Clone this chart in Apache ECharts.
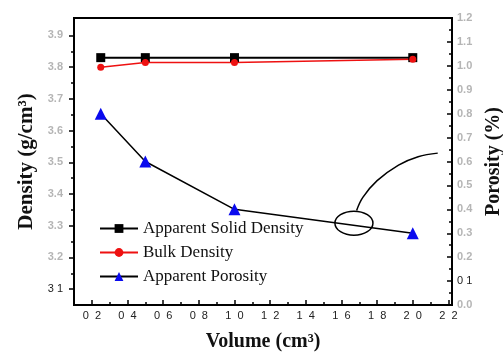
<!DOCTYPE html>
<html>
<head>
<meta charset="utf-8">
<script src="https://cdn.jsdelivr.net/npm/echarts@6/dist/echarts.min.js"></script>
<style>
html,body{margin:0;padding:0;background:#fff;}
#chart{width:503px;height:354px;}
</style>
</head>
<body>
<div id="chart"></div>
<script>
// data
var volumes = [0.25, 0.5, 1.0, 2.0];
var solidDensity = [3.83, 3.83, 3.83, 3.83];
var bulkDensity = [3.80, 3.815, 3.815, 3.825];
var porosity = [0.8, 0.6, 0.4, 0.3];

var xTicks = [0.2, 0.4, 0.6, 0.8, 1.0, 1.2, 1.4, 1.6, 1.8, 2.0, 2.2];
var xMinorTicks = [0.3, 0.5, 0.7, 0.9, 1.1, 1.3, 1.5, 1.7, 1.9, 2.1];
var densityTicks = [3.1, 3.2, 3.3, 3.4, 3.5, 3.6, 3.7, 3.8, 3.9];
var densityMinorTicks = [3.15, 3.25, 3.35, 3.45, 3.55, 3.65, 3.75, 3.85];

// hand-drawn note: circled spot and the curve leaving it (volume, porosity)
var noteCenter = [1.67, 0.342];
var noteCurve = [[1.685, 0.395], [1.72, 0.45], [1.80, 0.52], [1.92, 0.585], [2.03, 0.62], [2.14, 0.635]];

var serif = 'Liberation Serif';
var black = '#000';

function pair(ys){
  return volumes.map(function(v, i){ return [v, ys[i]]; });
}

function nameStyle(size){
  return {fontFamily: serif, fontWeight: 'bold', fontSize: size, color: '#111'};
}

var chart = echarts.init(document.getElementById('chart'));
var option = {
  backgroundColor: '#fff',
  animation: false,
  grid: {
    left: 74, right: 51, top: 18, bottom: 49,
    outerBoundsMode: 'none',
    show: true, borderColor: black, borderWidth: 2
  },
  legend: {
    orient: 'vertical',
    left: 99, top: 220, padding: 0,
    itemWidth: 38, itemHeight: 11, itemGap: 7,
    textStyle: {fontFamily: serif, fontSize: 17, color: '#111'},
    data: ['Apparent Solid Density', 'Bulk Density', 'Apparent Porosity']
  },
  xAxis: [{
    type: 'value', min: 0.1, max: 2.22,
    name: 'Volume (cm³)', nameLocation: 'middle', nameGap: 27,
    nameTextStyle: nameStyle(20),
    axisLine: {lineStyle: {color: black, width: 2}},
    axisTick: {inside: true, length: 5, customValues: xTicks, lineStyle: {color: black, width: 1.5}},
    axisLabel: {
      customValues: xTicks, margin: 5, fontSize: 11, color: '#222',
      formatter: function(v){ return v.toFixed(1).replace('.', '  '); }
    },
    splitLine: {show: false}
  }, {
    type: 'value', min: 0.1, max: 2.22, position: 'bottom',
    axisLine: {show: false},
    axisTick: {inside: true, length: 3, customValues: xMinorTicks, lineStyle: {color: black, width: 1.5}},
    axisLabel: {show: false},
    splitLine: {show: false}
  }],
  yAxis: [{
    type: 'value', min: 3.05, max: 3.955, position: 'left',
    name: 'Density (g/cm³)', nameLocation: 'middle', nameRotate: 90, nameGap: 36,
    nameTextStyle: nameStyle(21),
    axisLine: {lineStyle: {color: black, width: 2}},
    axisTick: {length: 5, customValues: densityTicks, lineStyle: {color: black, width: 1.5}},
    axisLabel: {
      customValues: densityTicks, margin: 11, fontSize: 11,
      formatter: function(v){
        if (Math.abs(v - 3.1) < 1e-6) return '{d|3 1}';
        return '{g|' + v.toFixed(1) + '}';
      },
      rich: {d: {color: '#222', fontSize: 11}, g: {color: '#b5b5b5', fontSize: 11, fontWeight: 'bold'}}
    },
    splitLine: {show: false}
  }, {
    type: 'value', min: 3.05, max: 3.955, position: 'left',
    axisLine: {show: false},
    axisTick: {length: 3, customValues: densityMinorTicks, lineStyle: {color: black, width: 1.5}},
    axisLabel: {show: false},
    splitLine: {show: false}
  }, {
    type: 'value', min: 0, max: 1.2, interval: 0.1, position: 'right',
    name: 'Porosity (%)', nameLocation: 'middle', nameRotate: 90, nameGap: 32,
    nameTextStyle: nameStyle(20),
    axisLine: {lineStyle: {color: black, width: 2}},
    axisTick: {inside: true, length: 5, lineStyle: {color: black, width: 1.5}},
    minorTick: {show: true, splitNumber: 2, length: 3, lineStyle: {color: black, width: 1.5}},
    axisLabel: {
      margin: 5, fontSize: 11,
      formatter: function(v){
        if (Math.abs(v - 0.1) < 1e-6) return '{d|0 1}';
        return '{g|' + v.toFixed(1) + '}';
      },
      rich: {d: {color: '#222', fontSize: 11}, g: {color: '#b5b5b5', fontSize: 11, fontWeight: 'bold'}}
    },
    splitLine: {show: false}
  }],
  series: [{
    name: 'Apparent Solid Density',
    type: 'line', xAxisIndex: 0, yAxisIndex: 0,
    symbol: 'rect', symbolSize: 9,
    itemStyle: {color: black},
    lineStyle: {color: black, width: 2},
    data: pair(solidDensity)
  }, {
    name: 'Bulk Density',
    type: 'line', xAxisIndex: 0, yAxisIndex: 0,
    symbol: 'circle', symbolSize: 7,
    itemStyle: {color: '#ee1111'},
    lineStyle: {color: '#ee1111', width: 1.5},
    data: pair(bulkDensity)
  }, {
    name: 'Apparent Porosity',
    type: 'line', xAxisIndex: 0, yAxisIndex: 2,
    symbol: 'triangle', symbolSize: 12,
    itemStyle: {color: '#0a0aee'},
    lineStyle: {color: black, width: 1.5},
    data: pair(porosity)
  }]
};
chart.setOption(option);

// place the circled note through the porosity scale
function px(p){ return chart.convertToPixel({xAxisIndex: 0, yAxisIndex: 2}, p); }
var c = px(noteCenter);
chart.setOption({
  graphic: [{
    type: 'ellipse',
    shape: {cx: c[0], cy: c[1], rx: 19, ry: 12},
    style: {fill: 'none', stroke: black, lineWidth: 1.5},
    z: 100
  }, {
    type: 'polyline',
    shape: {points: noteCurve.map(px), smooth: 0.4},
    style: {fill: 'none', stroke: black, lineWidth: 1.5},
    z: 100
  }]
});
</script>
</body>
</html>
